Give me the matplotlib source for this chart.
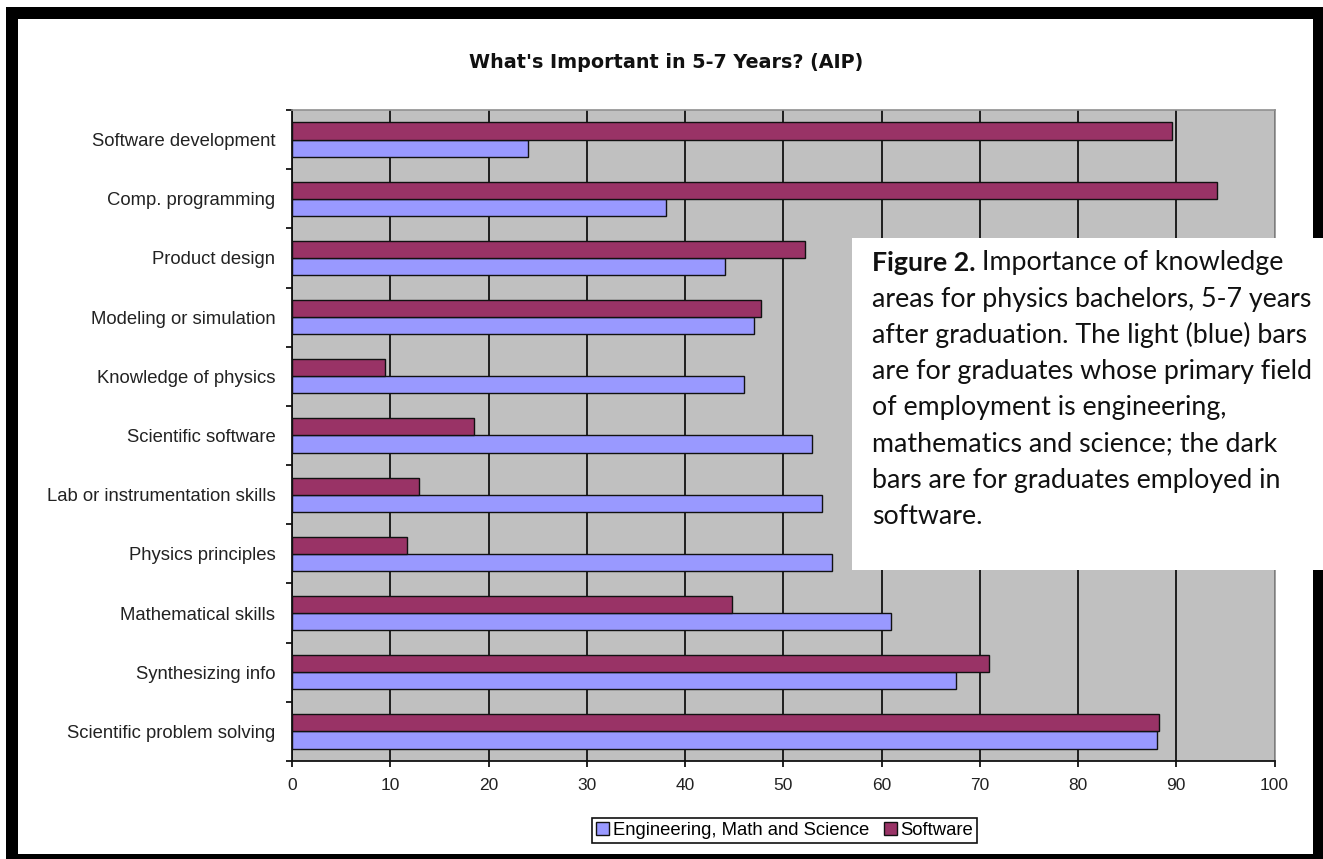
#! -*- coding: utf-8 -*-

#---------------------------------
# モジュールのインポート
#---------------------------------
import numpy as np
import matplotlib
matplotlib.use('Agg')
import matplotlib.pyplot as plt
from matplotlib.patches import Rectangle

#---------------------------------
# データ
#---------------------------------
categories = ['Software development', 'Comp. programming', 'Product design',
              'Modeling or simulation', 'Knowledge of physics', 'Scientific software',
              'Lab or instrumentation skills', 'Physics principles', 'Mathematical skills',
              'Synthesizing info', 'Scientific problem solving']
eng_math_sci = [24.0, 38.1, 44.1, 47.0, 46.0, 52.9, 53.9, 55.0, 61.0, 67.6, 88.0]
software = [89.6, 94.1, 52.2, 47.7, 9.5, 18.5, 12.9, 11.7, 44.8, 70.9, 88.2]
x_ticks = list(range(0, 101, 10))

title = "What's Important in 5-7 Years? (AIP)"
legend_labels = ['Engineering, Math and Science', 'Software']
caption_lines = [
    ' Importance of knowledge',
    'areas for physics bachelors, 5-7 years',
    'after graduation. The light (blue) bars',
    'are for graduates whose primary field',
    'of employment is engineering,',
    'mathematics and science; the dark',
    'bars are for graduates employed in',
    'software.',
]

#---------------------------------
# 定数定義
#---------------------------------
W, H = 1323, 859
COLOR_BLUE = '#9999FF'
COLOR_PLUM = '#993366'
COLOR_BG = '#C0C0C0'
LABEL_FONT = 'Liberation Sans'


def px(x, y):
    # ピクセル座標(左上原点) -> figure座標
    return x / W, 1 - y / H


def draw_chart():
    fig = plt.figure(figsize=(W / 100, H / 100), dpi=100)
    fig.patch.set_facecolor('white')

    # --- 軸の位置 ---
    l, t = 292, 110
    r, b = 1274.5, 761
    ax = fig.add_axes([l / W, 1 - b / H, (r - l) / W, (b - t) / H])
    ax.set_facecolor(COLOR_BG)

    n = len(categories)
    ypos = np.arange(n)[::-1]
    h = 0.29
    ax.barh(ypos - 0.145, eng_math_sci, height=h, color=COLOR_BLUE,
            edgecolor='#111111', linewidth=1.0, zorder=3, label=legend_labels[0])
    ax.barh(ypos + 0.145, software, height=h, color=COLOR_PLUM,
            edgecolor='#111111', linewidth=1.0, zorder=3, label=legend_labels[1])

    ax.set_xlim(0, 100)
    ax.set_ylim(-0.5, n - 0.5)

    # --- 目盛り ---
    ax.set_xticks(x_ticks)
    ax.set_xticklabels([str(v) for v in x_ticks], family=LABEL_FONT,
                       fontsize=12.5, color='#222222')
    ax.tick_params(axis='x', direction='out', length=4, width=1.2, pad=8)

    ax.set_yticks(np.arange(-0.5, n, 1))
    ax.set_yticklabels([])
    ax.tick_params(axis='y', which='major', direction='out', length=4, width=1.2)
    ax.set_yticks(ypos, minor=True)
    ax.set_yticklabels(categories, minor=True, family=LABEL_FONT,
                       fontsize=13.3, color='#222222')
    ax.tick_params(axis='y', which='minor', length=0, pad=12)

    ax.xaxis.grid(True, color='#111111', linewidth=1.3, zorder=1)
    ax.set_axisbelow(True)

    for s in ['left', 'bottom']:
        ax.spines[s].set_color('#111111')
        ax.spines[s].set_linewidth(1.3)
    for s in ['top', 'right']:
        ax.spines[s].set_color('#909090')
        ax.spines[s].set_linewidth(1.2)

    # --- タイトル ---
    fig.text(*px(666, 62), title, ha='center', va='center',
             family='DejaVu Sans', fontweight='bold', fontsize=13.8, color='#111111')

    # --- 凡例 ---
    leg = fig.legend(loc='center', bbox_to_anchor=px(784.5, 830.5), ncol=2,
                     frameon=True, fancybox=False, edgecolor='#111111', framealpha=1,
                     prop={'family': LABEL_FONT, 'size': 13.3},
                     handlelength=0.7, handleheight=0.7, handletextpad=0.2,
                     columnspacing=0.8, borderpad=0.2, borderaxespad=0)
    leg.get_frame().set_linewidth(1.2)

    # --- 外枠(黒) ---
    for (x0, y0, x1, y1) in [(6, 7, 18, 859), (6, 7, 1323, 19),
                             (1313, 7, 1323, 859), (6, 854, 1323, 859)]:
        fig.patches.append(Rectangle((x0 / W, 1 - y1 / H), (x1 - x0) / W, (y1 - y0) / H,
                                     transform=fig.transFigure, facecolor='black',
                                     edgecolor='none', zorder=5))

    # --- 説明文のボックス ---
    fig.patches.append(Rectangle((852 / W, 1 - 569.5 / H), (W - 852) / W, (569.5 - 238.5) / H,
                                 transform=fig.transFigure, facecolor='white',
                                 edgecolor='none', zorder=6))
    fs = 19.3
    x0 = 872
    renderer = fig.canvas.get_renderer()
    t0 = fig.text(*px(x0, 262.7), 'Figure 2.', ha='left', va='center', family='Lato',
                  fontweight='bold', fontsize=fs, color='#111111', zorder=7)
    bb = t0.get_window_extent(renderer=renderer)
    for i, line in enumerate(caption_lines):
        yy = 262.7 + 36.3 * i
        xx = x0 + (bb.width if i == 0 else 0)
        fig.text(*px(xx, yy), line, ha='left', va='center', family='Lato',
                 fontsize=fs, color='#111111', zorder=7)

    plt.savefig('out.png', dpi=100)
    plt.close()


def main():
    draw_chart()


if __name__ == '__main__':
    main()
